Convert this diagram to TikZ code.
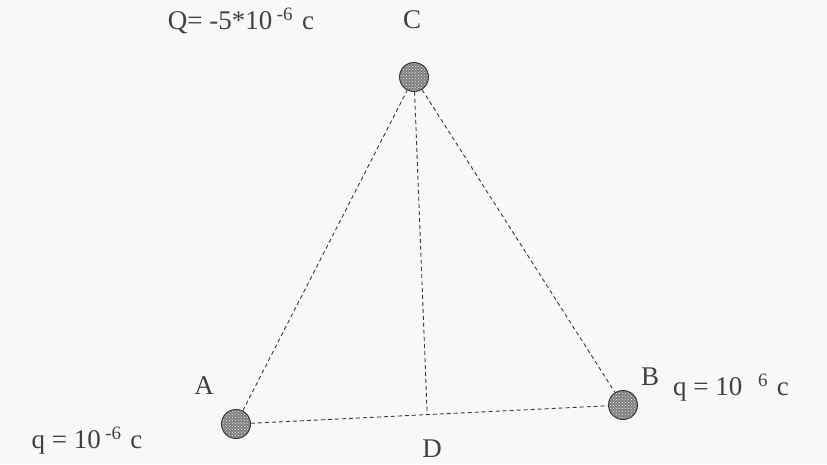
\documentclass[tikz,border=0pt]{standalone}
\usepackage{fontspec}
\setmainfont{Liberation Serif}
\usetikzlibrary{patterns,calc}
\definecolor{paper}{HTML}{F8F8F6}
\definecolor{inkgray}{HTML}{3A3A3A}
\definecolor{ballgray}{HTML}{808080}

\begin{document}
\begin{tikzpicture}[x=1pt, y=-1pt,
    charge/.style={circle, minimum size=29pt, inner sep=0pt, draw=inkgray, line width=1pt,
        preaction={fill=ballgray}, pattern=crosshatch dots, pattern color=gray!20},
    link/.style={dashed, dash pattern=on 4pt off 3pt, line width=0.9pt, color=inkgray},
    lbl/.style={font=\fontsize{27}{31}\selectfont, color=black!75, inner sep=0pt}]
    % Page
    \fill[paper] (0,0) rectangle (827,464);
    \useasboundingbox (0,0) rectangle (827,464);

    % Charges
    \node[charge] (C) at (414,77) {};
    \node[charge] (A) at (236,424) {};
    \node[charge] (B) at (623,405) {};
    \coordinate (D) at ($(A)!0.494!(B)$);

    % Dashed lines
    \draw[link] (A) -- (C);
    \draw[link] (C) -- (B);
    \draw[link] (A) -- (B);
    \draw[link] (C) -- (D);

    % Point labels
    \node[lbl] (Clbl) at (412,20) {C};
    \node[lbl] (Albl) at (204,386) {A};
    \node[lbl] (Blbl) at (650,377) {B};
    \node[lbl] (Dlbl) at (432,449) {D};

    % Charge values
    \node[lbl] (Qval) at (241,21) {Q= -5*10\,\textsuperscript{-6}\,\,c};
    \node[lbl] (qA) at (87,441) {q = 10\,\textsuperscript{-6}\,\,c};
    \node[lbl] (qB) at (731,388) {q = 10\,\, \textsuperscript{6}\,\,c};
\end{tikzpicture}
\end{document}
